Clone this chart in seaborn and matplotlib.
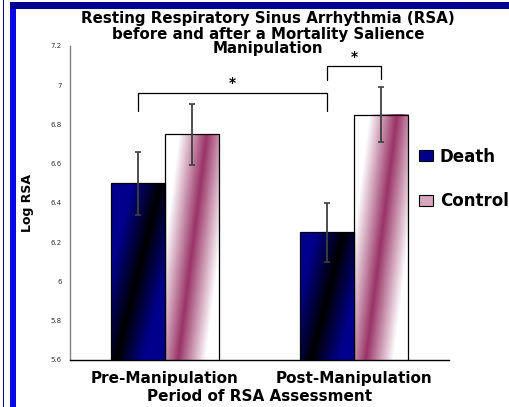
import numpy as np
import pandas as pd
import seaborn as sns
import matplotlib
matplotlib.use("Agg")
import matplotlib.pyplot as plt
from matplotlib.patches import Rectangle, Patch

# data
periods = ["Pre-Manipulation", "Post-Manipulation"]
conditions = ["Death", "Control"]
death_rsa = [6.50, 6.25]
control_rsa = [6.75, 6.85]
death_err = [0.16, 0.15]
control_err = [0.155, 0.14]
ytick_vals = [5.6, 5.8, 6.0, 6.2, 6.4, 6.6, 6.8, 7.0, 7.2]
ytick_labels = ["5.6", "5.8", "6", "6.2", "6.4", "6.6", "6.8", "7", "7.2"]
title_lines = ["Resting Respiratory Sinus Arrhythmia (RSA)",
               "before and after a Mortality Salience",
               "Manipulation"]

df = pd.DataFrame({
    "period": periods * 2,
    "condition": ["Death"] * 2 + ["Control"] * 2,
    "rsa": death_rsa + control_rsa,
})

sns.set_style("white")
plt.rcParams["font.family"] = ["DejaVu Sans"]
plt.rcParams["text.color"] = "black"
plt.rcParams["axes.labelcolor"] = "black"
plt.rcParams["xtick.color"] = "black"
plt.rcParams["ytick.color"] = "#333333"

W, H = 510, 407
YMIN, YMAX = 5.6, 7.2
fig = plt.figure(figsize=(W / 100, H / 100), dpi=100)
ax = fig.add_axes([70 / W, 1 - 360 / H, (449 - 70) / W, (360 - 46) / H])

navy = (0.0, 0.0, 0.55)
maroon = (0.60, 0.20, 0.40)

sns.barplot(data=df, x="period", y="rsa", hue="condition", order=periods,
            hue_order=conditions, palette=[navy, maroon], width=0.57,
            errorbar=None, edgecolor="black", linewidth=0.9, legend=False, ax=ax)

ax.set_ylim(YMIN, YMAX)
ax.set_xlim(-0.5, 1.5)
ax.set_yticks(ytick_vals)
ax.set_yticklabels(ytick_labels, fontsize=5)
ax.set_xticks([0, 1])
ax.set_xticklabels(periods, fontsize=11, fontweight="bold")
ax.set_xticks([-0.5, 0.5, 1.5], minor=True)
ax.tick_params(axis="x", which="major", length=0, pad=8)
ax.tick_params(axis="x", which="minor", length=4, color="black", direction="out")
ax.tick_params(axis="y", length=3, color="#808080", direction="out", pad=3)
ax.set_xlabel("Period of RSA Assessment", fontsize=11, fontweight="bold", labelpad=2)
ax.set_ylabel("Log RSA", fontsize=9, fontweight="bold", labelpad=12)
sns.despine(ax=ax)
ax.spines["left"].set_color("#808080")
ax.spines["bottom"].set_color("black")
ax.spines["left"].set_linewidth(1)
ax.spines["bottom"].set_linewidth(1)


def gradient_fill(bar, c_edge, c_mid, slope):
    # paint a diagonal two-colour gradient over the visible part of a bar
    x0 = bar.get_x()
    x1 = x0 + bar.get_width()
    y0 = max(bar.get_y(), YMIN)
    y1 = min(bar.get_y() + bar.get_height(), YMAX)
    p0 = ax.transData.transform((x0, y0))
    p1 = ax.transData.transform((x1, y1))
    w = max(int(round(p1[0] - p0[0])), 2)
    h = max(int(round(p1[1] - p0[1])), 2)
    X, Y = np.meshgrid(np.arange(w) + 0.5, np.arange(h) + 0.5)
    d = (X - w / 2) - (Y - h / 2) / slope
    t = np.clip(np.abs(d) / (w / 2), 0, 1)
    img = np.zeros((h, w, 3))
    for k in range(3):
        img[..., k] = c_mid[k] * (1 - t) + c_edge[k] * t
    ax.imshow(img, extent=(x0, x1, y0, y1), origin="lower",
              aspect="auto", zorder=bar.get_zorder(), interpolation="bilinear")
    bar.set_facecolor("none")
    bar.set_zorder(bar.get_zorder() + 0.1)


for bar in ax.containers[0]:
    gradient_fill(bar, navy, (0, 0, 0), 4.0)
for bar in ax.containers[1]:
    gradient_fill(bar, (1, 1, 1), maroon, 8.0)
ax.set_xlim(-0.5, 1.5)
ax.set_ylim(YMIN, YMAX)

centers = {}
for cond, cont, vals, errs in [("Death", ax.containers[0], death_rsa, death_err),
                               ("Control", ax.containers[1], control_rsa, control_err)]:
    xs = [b.get_x() + b.get_width() / 2 for b in cont]
    centers[cond] = xs
    ax.errorbar(xs, vals, yerr=errs, fmt="none", ecolor="#404040",
                elinewidth=1.3, capsize=2.5, capthick=1.2, zorder=5)

# significance brackets
bx0, bx1 = centers["Death"][0], centers["Death"][1]
ax.plot([bx0, bx0, bx1, bx1], [6.87, 6.96, 6.96, 6.87], color="black", lw=0.9, clip_on=False)
ax.text((bx0 + bx1) / 2, 6.975, "*", ha="center", va="bottom", fontsize=10, fontweight="bold")
sx0, sx1 = centers["Death"][1], centers["Control"][1]
ax.plot([sx0, sx0, sx1, sx1], [7.025, 7.10, 7.10, 7.03], color="black", lw=0.9, clip_on=False)
ax.text((sx0 + sx1) / 2, 7.108, "*", ha="center", va="bottom", fontsize=10, fontweight="bold")

for line, ypx in zip(title_lines, [19, 34, 49]):
    fig.text(268 / W, 1 - ypx / H, line, ha="center", va="center",
             fontsize=10.8, fontweight="bold")

handles = [Patch(facecolor=navy, edgecolor="black", lw=0.8),
           Patch(facecolor=(0.85, 0.65, 0.75), edgecolor="black", lw=0.8)]
fig.legend(handles, conditions, loc="center left", bbox_to_anchor=(404 / W, 1 - 179 / H),
           frameon=False, handlelength=0.85, handleheight=0.6, handletextpad=0.4,
           labelspacing=1.6, prop={"weight": "bold", "size": 12})

# slide frame
fig.patches.append(Rectangle((10 / W, 0), 6 / W, 1 - 2 / H, transform=fig.transFigure,
                             facecolor="#0a0ae6", edgecolor="none", zorder=0))
fig.patches.append(Rectangle((10 / W, 1 - 9 / H), 1 - 10 / W, 7 / H, transform=fig.transFigure,
                             facecolor="#000090", edgecolor="none", zorder=0))
fig.patches.append(Rectangle((3.5 / W, 0), 1 / W, 1, transform=fig.transFigure,
                             facecolor="#000080", edgecolor="none", zorder=0))

fig.savefig("out.png", dpi=100)
